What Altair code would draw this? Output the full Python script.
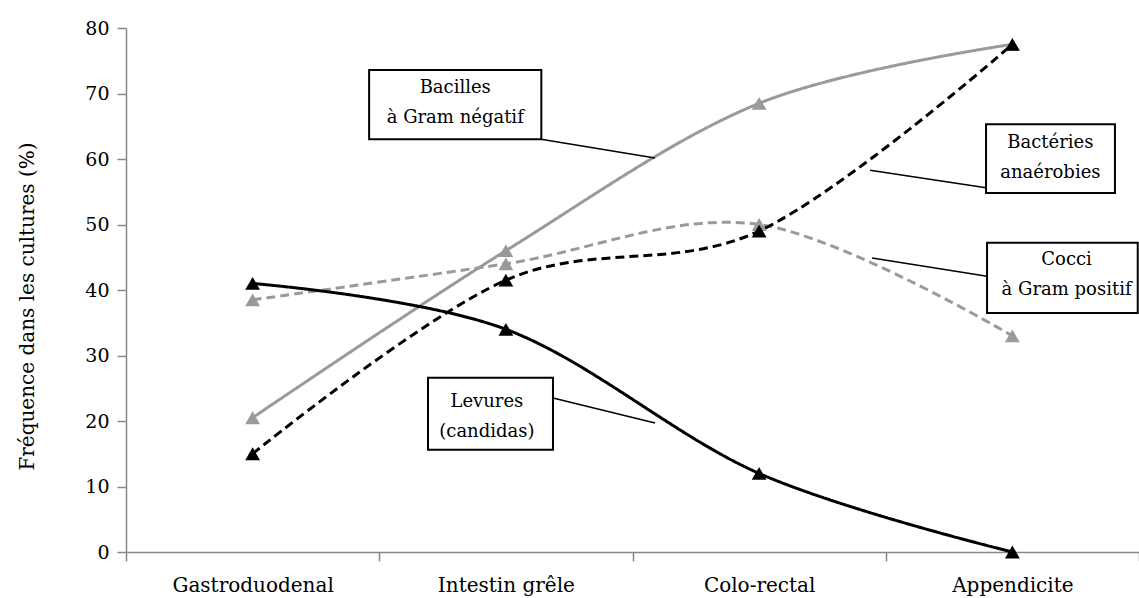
import altair as alt
import pandas as pd

categories = ["Gastroduodenal", "Intestin grêle", "Colo-rectal", "Appendicite"]
bacilles = [20.5, 46, 68.5, 77.5]
anaerobies = [15, 41.5, 49, 77.5]
cocci = [38.5, 44, 50, 33]
levures = [41, 34, 12, 0]

series_names = ["Bacilles", "Cocci", "Anaérobies", "Levures"]
series_values = [bacilles, cocci, anaerobies, levures]
series_colors = ["#9a9a9a", "#9a9a9a", "#000000", "#000000"]
series_dash = [[1, 0], [9, 5], [9, 5], [1, 0]]

# annotation boxes (data space)
ann_text = [["Bacilles", "à Gram négatif"], ["Bactéries", "anaérobies"],
            ["Cocci", "à Gram positif"], ["Levures", "(candidas)"]]
ann_x0 = [0.46, 2.896, 2.90, 0.6925]
ann_x1 = [1.14, 3.405, 3.495, 1.186]
ann_y0 = [63.0, 54.8, 36.5, 15.6]
ann_y1 = [73.6, 65.3, 47.2, 26.6]
ann_tx = [0.80, 3.15, 3.214, 0.925]
ann_ty = [70.8, 62.4, 44.6, 22.9]
con_x0 = [1.139, 2.896, 2.900, 1.186]
con_y0 = [63.0, 55.6, 42.1, 23.5]
con_x1 = [1.589, 2.438, 2.446, 1.589]
con_y1 = [60.15, 58.3, 44.9, 19.7]

FONT = "DejaVu Serif"

rows = []
for name, vals in zip(series_names, series_values):
    for i, v in enumerate(vals):
        rows.append({"idx": i, "value": v, "series": name})
df = pd.DataFrame(rows)

ann = pd.DataFrame({
    "text": ann_text, "x0": ann_x0, "x1": ann_x1, "y0": ann_y0, "y1": ann_y1,
    "tx": ann_tx, "ty": ann_ty, "cx0": con_x0, "cy0": con_y0, "cx1": con_x1, "cy1": con_y1,
})

label_array = "[" + ",".join("'" + c + "'" for c in categories) + "]"

x_scale = alt.Scale(domain=[-0.5, 3.5], nice=False, zero=False)
y_scale = alt.Scale(domain=[0, 80], nice=False)

x_axis = alt.Axis(
    title=None,
    values=[-0.5, 0, 0.5, 1, 1.5, 2, 2.5, 3, 3.5],
    labelExpr=f"datum.value % 1 === 0 ? {label_array}[datum.value] : ''",
    labelOverlap=False, labelFlush=False, grid=False,
    tickOpacity={"condition": {"test": "datum.value % 1 !== 0", "value": 1}, "value": 0},
    tickSize=9, tickColor="#888888", tickWidth=1.5,
    domainColor="#888888", domainWidth=1.5,
    labelFont=FONT, labelFontSize=20, labelColor="#000000", labelPadding=14,
)
y_axis = alt.Axis(
    title="Fréquence dans les cultures (%)",
    values=list(range(0, 81, 10)), grid=False,
    tickSize=9, tickColor="#888888", tickWidth=1.5,
    domainColor="#888888", domainWidth=1.5,
    labelFont=FONT, labelFontSize=19, labelColor="#000000", labelPadding=8,
    titleFont=FONT, titleFontSize=20, titleFontWeight="normal", titleColor="#000000",
    titleAngle=270, titleAlign="center", titleBaseline="middle",
    titleX=-99, titleY=278,
)


def X(field):
    return alt.X(field, type="quantitative", scale=x_scale, axis=x_axis)


def Y(field):
    return alt.Y(field, type="quantitative", scale=y_scale, axis=y_axis)


layers = []
for name, color, dash in zip(series_names, series_colors, series_dash):
    sub = df[df.series == name]
    base = alt.Chart(sub)
    line = base.mark_line(interpolate="cardinal", color=color, strokeWidth=3,
                          strokeDash=dash).encode(x=X("idx"), y=Y("value"))
    pts = base.mark_point(shape="triangle-up", filled=True, size=220, color=color,
                          opacity=1).encode(x=X("idx"), y=Y("value"))
    layers += [line, pts]

a = alt.Chart(ann)
rect = a.mark_rect(fill="white", stroke="#000000", strokeWidth=2).encode(
    x=X("x0"), x2="x1", y=Y("y0"), y2="y1")
conn = a.mark_rule(color="#000000", strokeWidth=1.5).encode(
    x=X("cx0"), x2="cx1", y=Y("cy0"), y2="cy1")
txt = a.mark_text(font=FONT, fontSize=18, lineHeight=30, align="center",
                  baseline="middle", color="#000000").encode(
    x=X("tx"), y=Y("ty"), text="text")

chart = alt.layer(*layers, conn, rect, txt).properties(
    width=1013, height=524,
    padding={"left": 126, "top": 28, "right": 0, "bottom": 46},
    autosize=alt.AutoSizeParams(type="none"),
    background="white",
).configure_view(stroke=None)

chart.save("out.html", embed_options={"renderer": "svg", "actions": False})
